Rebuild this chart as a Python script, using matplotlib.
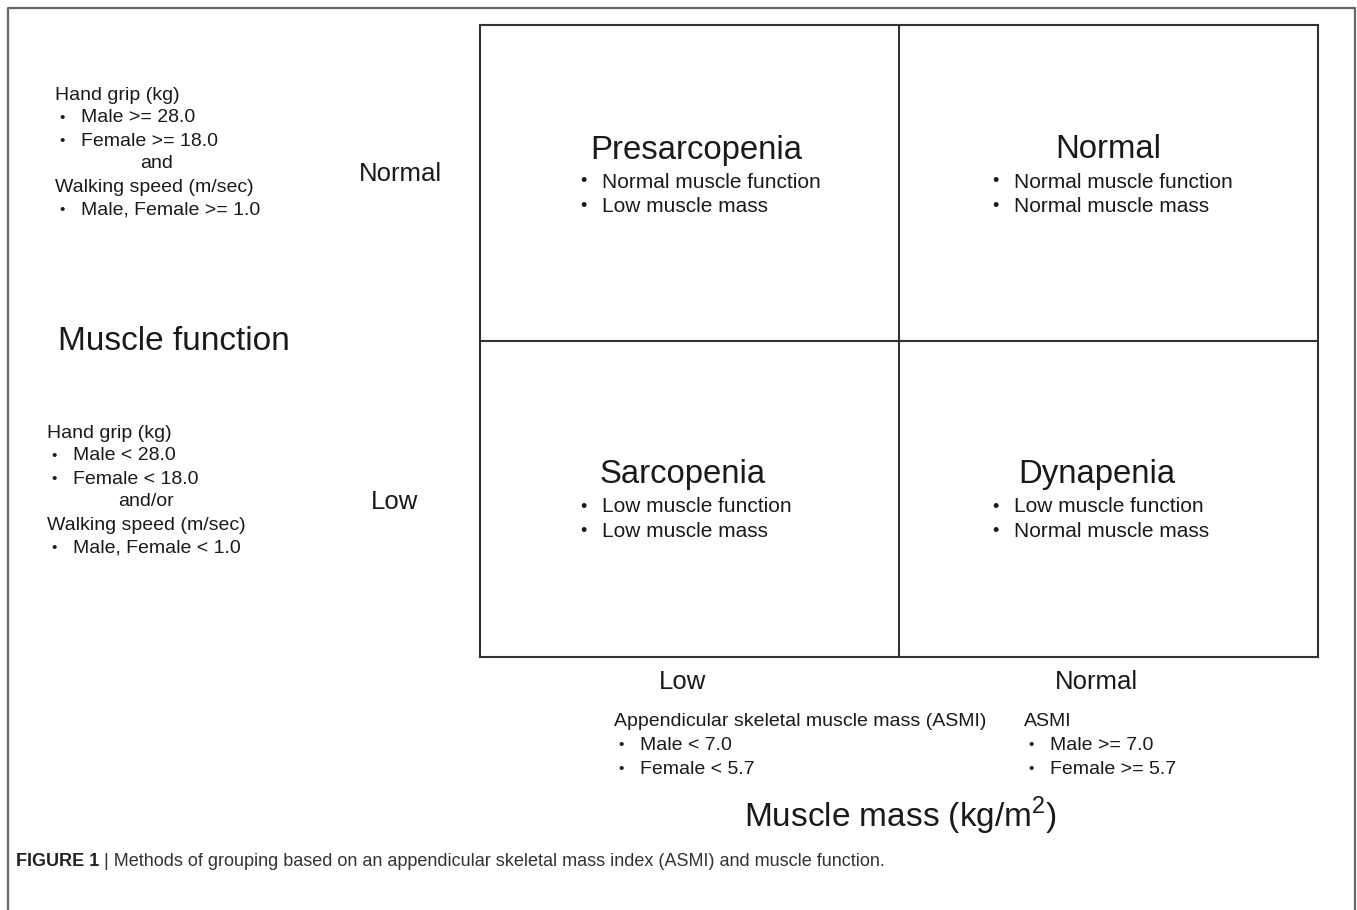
import matplotlib
matplotlib.use("Agg")
import matplotlib.pyplot as plt
from matplotlib import font_manager

plt.rcParams['font.family'] = ['Liberation Sans', 'DejaVu Sans']
plt.rcParams['mathtext.fontset'] = 'custom'
plt.rcParams['mathtext.rm'] = 'Liberation Sans'

# ---- content ----
function_levels = ["Normal", "Low"]          # rows, top to bottom
mass_levels = ["Low", "Normal"]              # columns, left to right
quadrant_titles = [["Presarcopenia", "Normal"],
                   ["Sarcopenia", "Dynapenia"]]
quadrant_items = [[["Normal muscle function", "Low muscle mass"],
                   ["Normal muscle function", "Normal muscle mass"]],
                  [["Low muscle function", "Low muscle mass"],
                   ["Low muscle function", "Normal muscle mass"]]]

function_criteria = [
    [("head", "Hand grip (kg)"), ("bullet", "Male >= 28.0"), ("bullet", "Female >= 18.0"),
     ("center", "and"), ("head", "Walking speed (m/sec)"), ("bullet", "Male, Female >= 1.0")],
    [("head", "Hand grip (kg)"), ("bullet", "Male < 28.0"), ("bullet", "Female < 18.0"),
     ("center", "and/or"), ("head", "Walking speed (m/sec)"), ("bullet", "Male, Female < 1.0")],
]
mass_criteria = [
    [("head", "Appendicular skeletal muscle mass (ASMI)"), ("bullet", "Male < 7.0"), ("bullet", "Female < 5.7")],
    [("head", "ASMI"), ("bullet", "Male >= 7.0"), ("bullet", "Female >= 5.7")],
]
y_title = "Muscle function"
x_title = r"Muscle mass (kg/m$^\mathregular{2}$)"
caption_bold = "FIGURE 1"
caption_rest = " | Methods of grouping based on an appendicular skeletal mass index (ASMI) and muscle function."

W, H = 1357, 910
ink = "#1a1a1a"

fig = plt.figure(figsize=(W / 100, H / 100), dpi=100)
ax = fig.add_axes([0, 0, 1, 1])
ax.set_xlim(0, W)
ax.set_ylim(H, 0)
ax.axis('off')

# outer page frame (open at the bottom)
ax.plot([8, 8, 1355, 1355], [H, 8, 8, H], color="#666666", lw=1.6)

# 2x2 grid
gx0, gx1, gy0, gy1 = 480, 1318, 25, 657
gax = fig.add_axes([gx0 / W, 1 - gy1 / H, (gx1 - gx0) / W, (gy1 - gy0) / H])
gax.set_xlim(0, len(mass_levels))
gax.set_ylim(len(function_levels), 0)
gax.set_xticks([])
gax.set_yticks([])
gax.patch.set_alpha(0)
for s in gax.spines.values():
    s.set_color("#333333")
    s.set_linewidth(1.5)
for i in range(1, len(mass_levels)):
    gax.axvline(i, color="#333333", lw=1.5)
for j in range(1, len(function_levels)):
    gax.axhline(j, color="#333333", lw=1.5)

# quadrant texts (pixel layout)
title_x = [[696, 1108], [683, 1097]]
title_y = [150, 475]
bullet_x = [[580, 992], [580, 992]]
for r in range(2):
    for c in range(2):
        ax.text(title_x[r][c], title_y[r], quadrant_titles[r][c], fontsize=23.7,
                ha='center', va='center', color=ink)
        for k, item in enumerate(quadrant_items[r][c]):
            yy = title_y[r] + 32 + 24.5 * k
            ax.text(bullet_x[r][c], yy, "•", fontsize=13, ha='left', va='center', color=ink)
            ax.text(bullet_x[r][c] + 22, yy, item, fontsize=15, ha='left', va='center', color=ink)

# row / column level labels
row_label_x = [400, 395]
row_label_y = [174, 502]
for r, lab in enumerate(function_levels):
    ax.text(row_label_x[r], row_label_y[r], lab, fontsize=18.5, ha='center', va='center', color=ink)
col_label_x = [683, 1096]
for c, lab in enumerate(mass_levels):
    ax.text(col_label_x[c], 682, lab, fontsize=18.5, ha='center', va='center', color=ink)


def criteria_block(x, y, lines, step, center_x):
    for k, (kind, txt) in enumerate(lines):
        yy = y + step * k
        if kind == "head":
            ax.text(x, yy, txt, fontsize=14, ha='left', va='center', color=ink)
        elif kind == "center":
            ax.text(center_x, yy, txt, fontsize=14, ha='center', va='center', color=ink)
        else:
            ax.text(x + 4, yy, "•", fontsize=11, ha='left', va='center', color=ink)
            ax.text(x + 26, yy, txt, fontsize=14, ha='left', va='center', color=ink)


criteria_block(55, 95, function_criteria[0], 23, 157)
criteria_block(47, 433, function_criteria[1], 23, 146)
criteria_block(614, 722, mass_criteria[0], 23.5, 0)
criteria_block(1024, 722, mass_criteria[1], 23.5, 0)

# axis titles
ax.text(58, 342, y_title, fontsize=24, ha='left', va='center', color=ink)
ax.text(744, 816, x_title, fontsize=24, ha='left', va='center', color=ink)

# caption
narrow = [f for f in ['Liberation Sans Narrow'] if any(ff.name == f for ff in font_manager.fontManager.ttflist)]
cap_family = narrow + ['Liberation Sans', 'DejaVu Sans']
t1 = ax.text(16, 862, caption_bold, fontsize=13, fontweight='bold', ha='left', va='center',
             color="#222222", family=cap_family)
ax.annotate(caption_rest, xy=(1, 0.5), xycoords=t1, ha='left', va='center', fontsize=13,
            color="#333333", family=cap_family)

fig.savefig("out.png", dpi=100)
